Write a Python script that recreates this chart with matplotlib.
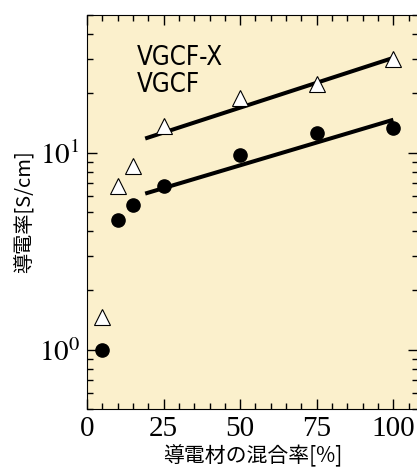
#!/usr/bin/env python3

import matplotlib
matplotlib.use("Agg")
import matplotlib.pyplot as plt
from matplotlib.ticker import MultipleLocator, LogLocator, FixedFormatter, NullFormatter

# mixing ratio of conductive filler [%]
ratio = [5, 10, 15, 25, 50, 75, 100]
# conductivity [S/cm]
vgcf_x = [1.47, 6.8, 8.6, 13.6, 19.0, 22.4, 30.0]
vgcf = [1.0, 4.57, 5.45, 6.8, 9.77, 12.6, 13.4]

# fitted trend lines (end points)
fit_x = [19, 100]
fit_vgcf_x = [11.8, 30.3]
fit_vgcf = [6.2, 14.7]

xticks = [0, 25, 50, 75, 100]
xticklabels = ["0", "25", "50", "75", "100"]
yticks = [1, 10]
yticklabels = [r"$10^{0}$", r"$10^{1}$"]

plt.rcParams["mathtext.fontset"] = "stix"
plt.rcParams["font.family"] = ["Noto Sans CJK JP", "DejaVu Sans"]

fig = plt.figure(figsize=(4.17, 4.67), dpi=100)
ax = fig.add_axes([0.2086, 0.1242, 0.7934, 0.8437])
ax.set_facecolor("#fbf0cc")

ax.plot(fit_x, fit_vgcf_x, "-", color="black", lw=2.9, solid_capstyle="butt")
ax.plot(fit_x, fit_vgcf, "-", color="black", lw=2.9, solid_capstyle="butt")
ax.plot(ratio, vgcf_x, "^", ms=11, mfc="white", mec="black", mew=0.8, zorder=5)
ax.plot(ratio, vgcf, "o", ms=9.5, mfc="black", mec="black", zorder=5)

ax.set_yscale("log")
ax.set_xlim(0, 108)
ax.set_ylim(0.5, 50)

ax.set_xticks(xticks)
ax.set_xticklabels(xticklabels, family="Liberation Serif", fontsize=21)
ax.xaxis.set_minor_locator(MultipleLocator(5))
ax.set_yticks(yticks)
ax.yaxis.set_major_formatter(FixedFormatter(yticklabels))
ax.yaxis.set_minor_locator(LogLocator(base=10, subs=range(2, 10), numticks=20))
ax.yaxis.set_minor_formatter(NullFormatter())
for lbl in ax.get_yticklabels():
  lbl.set_fontsize(21)

ax.tick_params(which="both", direction="in", top=True, right=True, width=1, pad=5)
ax.tick_params(which="major", length=7)
ax.tick_params(which="minor", length=4)
ax.spines["right"].set_visible(False)

ax.set_xlabel("導電材の混合率[%]", fontsize=15, labelpad=2)
ax.set_ylabel("導電率[S/cm]", fontsize=14.5, labelpad=2)

ax.text(0.152, 0.873, "VGCF-X", transform=ax.transAxes, family="DejaVu Sans",
        fontstretch="condensed", fontsize=18.5, va="baseline")
ax.text(0.152, 0.805, "VGCF", transform=ax.transAxes, family="DejaVu Sans",
        fontstretch="condensed", fontsize=18.5, va="baseline")

plt.savefig("out.png", dpi=100)
